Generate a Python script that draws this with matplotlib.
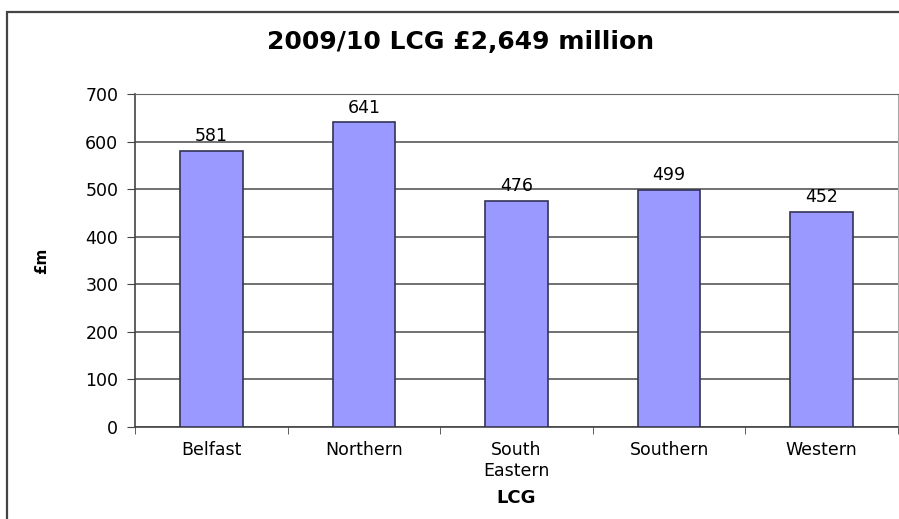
import matplotlib.pyplot as plt
from matplotlib.patches import Rectangle

regions = ["Belfast", "Northern", "South\nEastern", "Southern", "Western"]
spend = [581, 641, 476, 499, 452]
yticks = [0, 100, 200, 300, 400, 500, 600, 700]

fig = plt.figure(figsize=(8.99, 5.19), dpi=100)
ax = fig.add_axes([135 / 899, 92 / 519, 763 / 899, 333 / 519])

# outer chart frame (cut off at right and bottom like the original)
fig.patches.append(Rectangle((7 / 899, -0.1), 1.2, 1.1 - 12 / 519, transform=fig.transFigure,
                             fill=False, edgecolor="#444444", linewidth=1.6))

x = list(range(len(regions)))
bars = ax.bar(x, spend, width=0.41, color="#9999ff", edgecolor="#333355", linewidth=1.2, zorder=3)
ax.bar_label(bars, labels=[str(v) for v in spend], padding=4, fontsize=12.5)

ax.set_xlim(-0.5, 4.5)
ax.set_ylim(0, 700)
ax.set_yticks(yticks)
ax.set_xticks(x)
ax.set_xticklabels(regions, fontsize=12.5, va="top")
ax.set_xticks([i - 0.5 for i in range(len(regions) + 1)], minor=True)
ax.tick_params(axis="x", which="major", length=0, pad=10)
ax.tick_params(axis="x", which="minor", length=5, direction="out", color="#444444")
ax.tick_params(axis="y", length=6, direction="out", color="#444444", labelsize=12.5, pad=6)

ax.grid(axis="y", color="#4a4a4a", linewidth=1.1, zorder=0)
ax.set_axisbelow(True)
for side in ["left", "bottom"]:
    ax.spines[side].set_color("#444444")
    ax.spines[side].set_linewidth(1.2)
ax.spines["top"].set_color("#666666")
ax.spines["right"].set_color("#aaaaaa")

fig.text(461 / 899, 1 - 42 / 519, "2009/10 LCG £2,649 million", fontsize=18, fontweight="bold",
         ha="center", va="center")
ax.set_xlabel("LCG", fontsize=13, fontweight="bold")
ax.xaxis.set_label_coords(0.5, -62 / 333)
ax.set_ylabel("£m", fontsize=11, fontweight="bold")
ax.yaxis.set_label_coords(-86 / 763, 0.5)

fig.savefig("out.png", dpi=100)
